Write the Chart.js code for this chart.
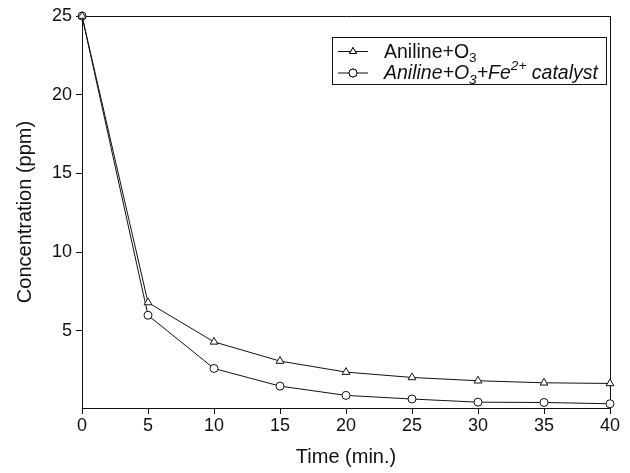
<!DOCTYPE html>
<html>
<head>
<meta charset="utf-8">
<script src="https://cdn.jsdelivr.net/npm/chart.js@4"></script>
<style>
  html, body { margin: 0; padding: 0; background: #fff; }
  #wrap { width: 630px; height: 473px; }
</style>
</head>
<body>
<div id="wrap"><canvas id="chart"></canvas></div>
<script>
// ---- datos ----
const times        = [0, 5, 10, 15, 20, 25, 30, 35, 40];
const anilineO3    = [25, 6.8, 4.3, 3.08, 2.38, 2.04, 1.83, 1.70, 1.66];
const anilineO3Fe  = [25, 5.99, 2.61, 1.49, 0.90, 0.67, 0.47, 0.45, 0.37];
const seriesLabels = ['Aniline+O\u2083', 'Aniline+O\u2083+Fe\u00B2\u207A catalyst'];
const xTicks       = [0, 5, 10, 15, 20, 25, 30, 35, 40];
const yTicks       = [5, 10, 15, 20, 25];

const INK  = '#111';
const FONT = '"Liberation Sans", Arial, sans-serif';

const toPoints = (ys) => times.map((t, i) => ({ x: t, y: ys[i] }));

// sub / superindices unicode -> texto normal desplazado
const SUB = { '\u2083': '3' };
const SUP = { '\u00B2': '2', '\u207A': '+' };

const drawRichText = (ctx, text, x, y, size, italic) => {
    const style = italic ? 'italic ' : '';
    let cx = x;
    for (const ch of text) {
        let s = ch, fs = size, dy = 0;
        if (SUB[ch]) { s = SUB[ch]; fs = size * 0.7; dy = size * 0.3; }
        else if (SUP[ch]) { s = SUP[ch]; fs = size * 0.7; dy = -size * 0.38; }
        ctx.font = `${style}${fs}px ${FONT}`;
        ctx.fillText(s, cx, y + dy);
        cx += ctx.measureText(s).width;
    }
};

// leyenda con marco, como en la figura original
const boxLegend = {
    id: 'boxLegend',
    afterDraw: (chart) => {
        const ctx = chart.ctx;
        const box = { x: 332.5, y: 37.5, w: 274, h: 47 };
        const rows = [51.5, 73];
        ctx.save();
        ctx.strokeStyle = INK;
        ctx.lineWidth = 1;
        ctx.fillStyle = '#fff';
        ctx.fillRect(box.x, box.y, box.w, box.h);
        ctx.strokeRect(box.x, box.y, box.w, box.h);

        chart.data.datasets.forEach((ds, i) => {
            const y = rows[i];
            ctx.beginPath();
            ctx.moveTo(338, y);
            ctx.lineTo(368, y);
            ctx.stroke();
            Chart.helpers.drawPoint(ctx, {
                pointStyle: ds.pointStyle, radius: 4, borderWidth: 1
            }, 353, y);
            ctx.fillStyle = '#fff';
            ctx.fill();
            ctx.stroke();
            ctx.fillStyle = INK;
            ctx.textBaseline = 'middle';
            drawRichText(ctx, ds.label, 384, y + 1, 19.5, i === 1);
        });
        ctx.restore();
    }
};

const ctx = document.getElementById('chart').getContext('2d');

new Chart(ctx, {
    type: 'line',
    data: {
        datasets: [
            {
                label: seriesLabels[0],
                data: toPoints(anilineO3),
                pointStyle: 'triangle',
                pointRadius: 4.5,
                borderColor: INK,
                backgroundColor: '#fff',
                borderWidth: 1,
                pointBorderWidth: 1,
                clip: false
            },
            {
                label: seriesLabels[1],
                data: toPoints(anilineO3Fe),
                pointStyle: 'circle',
                pointRadius: 4,
                borderColor: INK,
                backgroundColor: '#fff',
                borderWidth: 1,
                pointBorderWidth: 1,
                clip: false
            }
        ]
    },
    options: {
        responsive: true,
        maintainAspectRatio: false,
        animation: false,
        layout: { padding: { left: 0, right: 20, top: 16, bottom: 0 } },
        plugins: {
            legend: { display: false },
            tooltip: { enabled: false }
        },
        scales: {
            x: {
                type: 'linear',
                position: 'bottom',
                min: 0,
                max: 40,
                afterBuildTicks: (axis) => { axis.ticks = xTicks.map(v => ({ value: v })); },
                afterFit: (scale) => { scale.height = 65; },
                ticks: { color: INK, font: { family: FONT, size: 18 }, padding: 1 },
                grid: { drawOnChartArea: false, color: INK, tickLength: 6, tickColor: INK },
                border: { color: INK, width: 1 },
                title: { display: true, text: 'Time (min.)', color: INK, font: { family: FONT, size: 20 }, padding: { top: 6 } }
            },
            y: {
                type: 'linear',
                position: 'left',
                min: 0.1,
                max: 25,
                afterBuildTicks: (axis) => { axis.ticks = yTicks.map(v => ({ value: v })); },
                afterFit: (scale) => { scale.width = 82; },
                ticks: { color: INK, font: { family: FONT, size: 18 }, padding: 4 },
                grid: { drawOnChartArea: false, color: INK, tickLength: 6, tickColor: INK },
                border: { color: INK, width: 1 },
                title: { display: true, text: 'Concentration (ppm)', color: INK, font: { family: FONT, size: 20 }, padding: { top: 13, bottom: 0 } }
            },
            xTop: {
                type: 'linear',
                position: 'top',
                min: 0,
                max: 40,
                afterFit: (scale) => { scale.height = 0; },
                ticks: { display: false },
                grid: { display: false },
                border: { color: INK, width: 1 }
            },
            yRight: {
                type: 'linear',
                position: 'right',
                min: 0.1,
                max: 25,
                afterFit: (scale) => { scale.width = 0; },
                ticks: { display: false },
                grid: { display: false },
                border: { color: INK, width: 1 }
            }
        }
    },
    plugins: [boxLegend]
});
</script>
</body>
</html>
